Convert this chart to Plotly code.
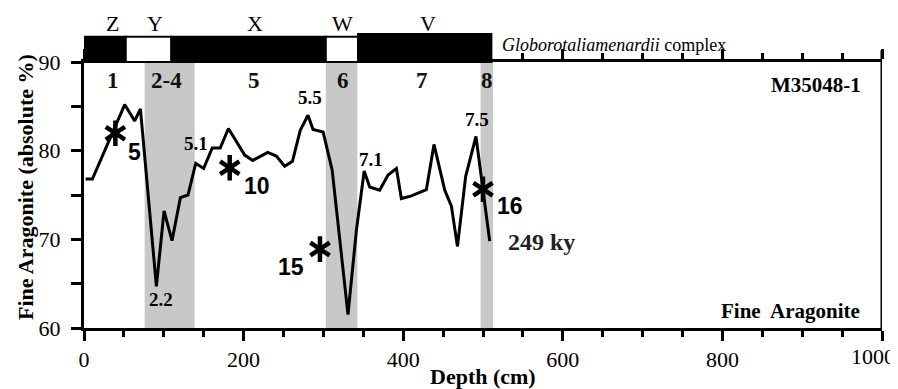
import plotly.graph_objects as go

# ---- data ----
depth = [2, 10.5, 51, 63.5, 70.7, 90.7, 100.3, 110.3, 120.8, 130.3, 140, 150, 160.7, 170.7,
         181, 201.4, 211.4, 230.2, 241, 251.5, 261.2, 271, 280.7, 287, 299.7, 311, 330.8,
         341.4, 351.1, 358, 370.5, 381, 391.5, 397.7, 410.3, 420.7, 429, 438.6, 452, 460.4,
         468, 478.3, 491.2, 508.4]
aragonite = [76.8, 76.8, 85.2, 83.35, 84.7, 64.7, 73.2, 69.85, 74.7, 75.0, 78.56, 78.0, 80.3, 80.3,
             82.5, 79.5, 78.9, 79.8, 79.4, 78.25, 78.8, 82.3, 84.0, 82.4, 82.1, 77.8, 61.5,
             71.06, 77.7, 75.9, 75.55, 77.25, 78.0, 74.6, 74.9, 75.25, 75.6, 80.7, 75.55, 73.75,
             69.2, 77.1, 81.6, 69.8]

# grey stage bands (depth ranges)
band_start = [76, 303, 497]
band_end = [138.7, 342.6, 512.5]

# G. menardii complex bar: segments
bar_start = [0, 52.3, 109.5, 303, 343.4]
bar_end = [52.3, 109.5, 303, 343.4, 510.5]
bar_present = [True, False, True, False, True]
zone_letters = ["Z", "Y", "X", "W", "V"]
zone_x = [36, 88.6, 214, 324, 430.7]

stage_labels = ["1", "2-4", "5", "6", "7", "8"]
stage_x = [36, 103, 212.7, 324.5, 423.6, 505]

peak_labels = ["5.1", "2.2", "5.5", "7.1", "7.5"]
peak_x = [140.9, 96.1, 283.2, 360.2, 492.7]
peak_y = [80.84, 63.2, 86.05, 78.97, 83.46]

star_x = [39.3, 182.6, 295.7, 500]
star_y = [81.97, 78.07, 68.9, 75.65]
star_labels = ["5", "10", "15", "16"]
star_label_x = [63.6, 217.3, 259.9, 533.5]
star_label_y = [79.9, 76.04, 66.87, 73.78]

x_ticks = [0, 200, 400, 600, 800, 1000]
x_ticktext = ["0", "200", "400", "600", "800", ""]   # last label drawn separately
last_x_label = "1000"
y_ticks = [60, 70, 80, 90]

SERIF = "Liberation Serif, Times New Roman, serif"
SANS = "Liberation Sans, Arial, sans-serif"

fig = go.Figure()

fig.add_trace(go.Scatter(x=depth, y=aragonite, mode="lines",
                         line=dict(color="black", width=3), showlegend=False,
                         hoverinfo="skip"))

# asterisks (6-spoke) built from two marker symbols
for sym in ["y-up-open", "y-down-open"]:
    fig.add_trace(go.Scatter(x=star_x, y=star_y, mode="markers",
                             marker=dict(symbol=sym, size=16, color="black",
                                         line=dict(color="black", width=4.5)),
                             showlegend=False, hoverinfo="skip"))

shapes = []
for s, e in zip(band_start, band_end):
    shapes.append(dict(type="rect", xref="x", yref="paper", x0=s, x1=e, y0=0, y1=1,
                       fillcolor="#c8c8c8", line=dict(width=0), layer="below"))

# top bar
for s, e, p in zip(bar_start, bar_end, bar_present):
    top = 1.105 if (p and s > 340) else 1.095
    shapes.append(dict(type="rect", xref="x", yref="paper", x0=s, x1=e, y0=1.0, y1=top,
                       fillcolor="black" if p else "white",
                       line=dict(color="black", width=2), layer="above"))

# right border extension
shapes.append(dict(type="line", xref="x", yref="paper", x0=1000, x1=1000, y0=0, y1=1.044,
                   line=dict(color="black", width=3)))


def ann(text, x, y, xref="x", yref="y", xanchor="center", yanchor="middle", **kw):
    d = dict(text=text, x=x, y=y, xref=xref, yref=yref, xanchor=xanchor,
             yanchor=yanchor, showarrow=False)
    d.update(kw)
    return d


annotations = []
for t, x in zip(zone_letters, zone_x):
    annotations.append(ann(t, x, 1.145, yref="paper",
                           font=dict(family=SERIF, size=22, color="black")))
for t, x in zip(stage_labels, stage_x):
    annotations.append(ann("<b>%s</b>" % t, x, 87.93,
                           font=dict(family=SERIF, size=23, color="#111")))
for t, x, y in zip(peak_labels, peak_x, peak_y):
    annotations.append(ann("<b>%s</b>" % t, x, y,
                           font=dict(family=SERIF, size=19, color="black")))
for t, x, y in zip(star_labels, star_label_x, star_label_y):
    annotations.append(ann("<b>%s</b>" % t, x, y,
                           font=dict(family=SANS, size=23, color="black")))

annotations += [
    ann("<b>249 ky</b>", 529.3, 69.74, xanchor="left",
        font=dict(family=SERIF, size=24, color="#222")),
    ann("<b>M35048-1</b>", 975.6, 87.4, xanchor="right",
        font=dict(family=SERIF, size=21, color="black")),
    ann("<b>Fine  Aragonite</b>", 974.4, 61.87, xanchor="right",
        font=dict(family=SERIF, size=21, color="black")),
    ann("<i>Globorotaliamenardii</i> complex", 521, 1.063, yref="paper", xanchor="left",
        font=dict(family=SERIF, size=18, color="black")),
    ann("<b>Fine Aragonite (absolute %)</b>", -0.074, 0.53, xref="paper", yref="paper",
        textangle=-90, font=dict(family=SERIF, size=22, color="black")),
    ann("<b>Depth (cm)</b>", 0.5, -0.183, xref="paper", yref="paper",
        font=dict(family=SERIF, size=22, color="black")),
    ann(last_x_label, 1.0185, -0.1075, xref="paper", yref="paper", xanchor="right",
        font=dict(family=SERIF, size=22, color="black")),
]

# page body has an 8px margin, so the figure is sized/offset to compensate
fig.update_layout(
    width=890, height=381,
    margin=dict(l=76, r=16, t=54, b=61, autoexpand=False),
    paper_bgcolor="white", plot_bgcolor="white",
    shapes=shapes, annotations=annotations,
    showlegend=False,
)

fig.update_xaxes(range=[0, 1000], tickvals=x_ticks, ticktext=x_ticktext, ticks="outside",
                 ticklen=10, tickwidth=2.5,
                 tickcolor="black", showline=True, linecolor="black", linewidth=3,
                 mirror="ticks", showgrid=False, zeroline=False,
                 automargin=False,
                 minor=dict(dtick=50, ticks="outside", ticklen=6, tickwidth=2.5,
                            tickcolor="black", showgrid=False),
                 tickfont=dict(family=SERIF, size=22, color="black"))
fig.update_yaxes(range=[60, 90], tickvals=y_ticks, ticks="outside", ticklen=10, tickwidth=2.5,
                 tickcolor="black", showline=True, linecolor="black", linewidth=3,
                 mirror=False, showgrid=False, zeroline=False, ticklabelstandoff=6,
                 automargin=False,
                 minor=dict(dtick=5, ticks="outside", ticklen=10, tickwidth=2.5,
                            tickcolor="black", showgrid=False),
                 tickfont=dict(family=SERIF, size=22, color="black"))

fig.write_html("out.html")
